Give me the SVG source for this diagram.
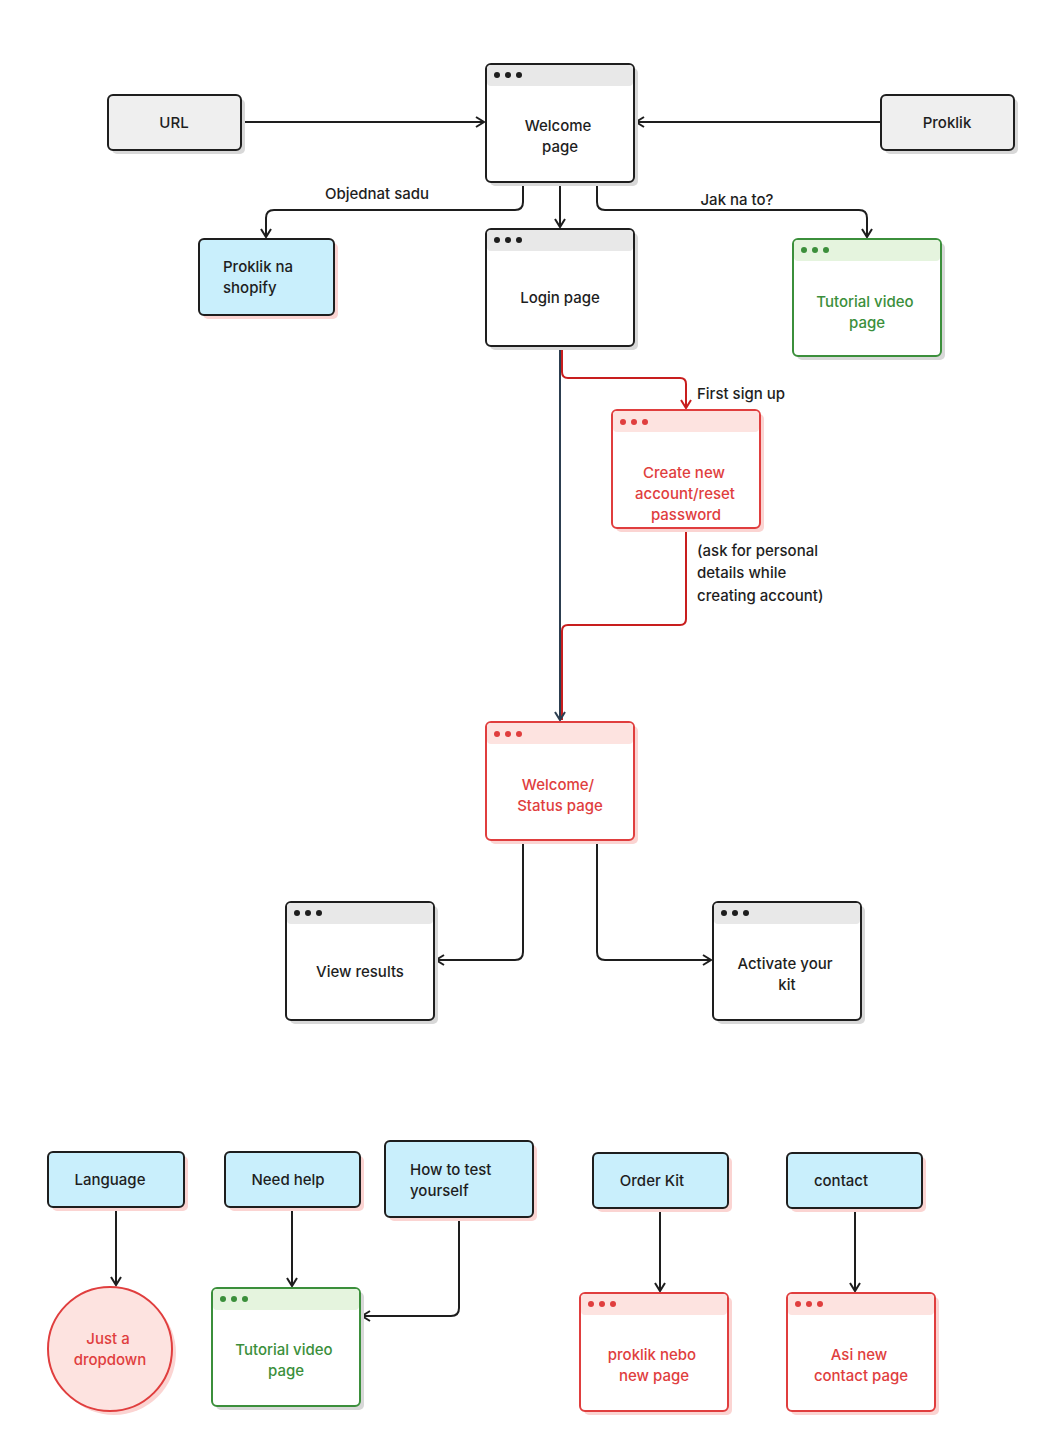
<svg xmlns="http://www.w3.org/2000/svg" width="1040" height="1440" viewBox="0 0 1040 1440">
<defs>
<style>
text{font-family:Inter,"Noto Sans","Liberation Sans",sans-serif;font-size:15px;font-weight:500;fill:#1e1e1e}
.c{text-anchor:middle}
.k rect.b{fill:#fff;stroke:#1e1e1e;stroke-width:2}
.k rect.h{fill:#e8e8e8}
.k circle{fill:#1e1e1e}
.k rect.s{fill:#d8d8d8}
.r rect.b{fill:#fff;stroke:#e03e3e;stroke-width:2}
.r rect.h{fill:#fde3e0}
.r circle{fill:#e03e3e}
.r text{fill:#e03e3e}
.r rect.s{fill:#fbd4d2}
.g rect.b{fill:#fff;stroke:#3b8f3b;stroke-width:2}
.g rect.h{fill:#e5f4de}
.g circle{fill:#3b8f3b}
.g text{fill:#3b8f3b}
.g rect.s{fill:#d8d8d8}
.gr rect.b{fill:#efefef;stroke:#1e1e1e;stroke-width:2}
.gr rect.s{fill:#d8d8d8}
.bl rect.b{fill:#c9effc;stroke:#1e1e1e;stroke-width:2}
.bl rect.s{fill:#fbd4d2}
.ln{fill:none;stroke:#1e1e1e;stroke-width:2}
.rl{fill:none;stroke:#c81e1e;stroke-width:2}
.dl{fill:none;stroke:#2c3e50;stroke-width:2}
</style>
<marker id="a" viewBox="0 0 12 12" refX="10" refY="6" markerWidth="12" markerHeight="12" markerUnits="userSpaceOnUse" orient="auto"><path d="M2,1 L10,6 L2,11" fill="none" stroke="#1e1e1e" stroke-width="2"/></marker>
<marker id="ar" viewBox="0 0 12 12" refX="10" refY="6" markerWidth="12" markerHeight="12" markerUnits="userSpaceOnUse" orient="auto"><path d="M2,1 L10,6 L2,11" fill="none" stroke="#c81e1e" stroke-width="2"/></marker>
<marker id="ad" viewBox="0 0 12 12" refX="10" refY="6" markerWidth="12" markerHeight="12" markerUnits="userSpaceOnUse" orient="auto"><path d="M2,1 L10,6 L2,11" fill="none" stroke="#2c3e50" stroke-width="2"/></marker>
</defs>
<rect width="1040" height="1440" fill="#fff"/>

<g id="connectors">
<path class="ln" d="M241,122 H484" marker-end="url(#a)"/>
<path class="ln" d="M881,122 H636" marker-end="url(#a)"/>
<path class="ln" d="M523,182 V202 Q523,210 515,210 H274 Q266,210 266,218 V237" marker-end="url(#a)"/>
<path class="ln" d="M560,182 V227" marker-end="url(#a)"/>
<path class="ln" d="M597,182 V202 Q597,210 605,210 H859 Q867,210 867,218 V237" marker-end="url(#a)"/>
<path class="rl" d="M562,346 V372 Q562,378 568,378 H680 Q686,378 686,384 V408" marker-end="url(#ar)"/>
<path class="rl" d="M686,528 V619 Q686,625 680,625 H568 Q562,625 562,631 V720"/>
<path class="dl" d="M560,346 V720" marker-end="url(#ad)"/>
<path class="ln" d="M523,840 V952 Q523,960 515,960 H436" marker-end="url(#a)"/>
<path class="ln" d="M597,840 V952 Q597,960 605,960 H711" marker-end="url(#a)"/>
<path class="ln" d="M116,1207 V1285" marker-end="url(#a)"/>
<path class="ln" d="M292,1207 V1286" marker-end="url(#a)"/>
<path class="ln" d="M459,1217 V1308 Q459,1316 451,1316 H362" marker-end="url(#a)"/>
<path class="ln" d="M660,1208 V1291" marker-end="url(#a)"/>
<path class="ln" d="M855,1208 V1291" marker-end="url(#a)"/>
<text x="377" y="199" class="c">Objednat sadu</text>
<text x="737" y="205" class="c">Jak na to?</text>
<text x="697" y="399">First sign up</text>
<text x="697" y="556">(ask for personal</text>
<text x="697" y="578">details while</text>
<text x="697" y="601">creating account)</text>
</g>

<g id="url" class="gr"><rect class="s" x="112" y="99" width="133" height="55" rx="5"/><rect class="b" x="108" y="95" width="133" height="55" rx="5"/><text x="174" y="128" class="c">URL</text></g>
<g id="proklik" class="gr"><rect class="s" x="885" y="99" width="133" height="55" rx="5"/><rect class="b" x="881" y="95" width="133" height="55" rx="5"/><text x="947" y="128" class="c">Proklik</text></g>

<g id="welcome" class="k"><rect class="s" x="490" y="68" width="148" height="118" rx="5"/><rect class="b" x="486" y="64" width="148" height="118" rx="5"/><rect class="h" x="487" y="65" width="146" height="21" rx="4"/><circle cx="497" cy="75" r="3"/><circle cx="508" cy="75" r="3"/><circle cx="519" cy="75" r="3"/><text x="558" y="131" class="c">Welcome</text><text x="560" y="152" class="c">page</text></g>

<g id="shopify" class="bl"><rect class="s" x="203" y="243" width="135" height="76" rx="5"/><rect class="b" x="199" y="239" width="135" height="76" rx="5"/><text x="223" y="272">Proklik na</text><text x="223" y="293">shopify</text></g>

<g id="login" class="k"><rect class="s" x="490" y="233" width="148" height="117" rx="5"/><rect class="b" x="486" y="229" width="148" height="117" rx="5"/><rect class="h" x="487" y="230" width="146" height="21" rx="4"/><circle cx="497" cy="240" r="3"/><circle cx="508" cy="240" r="3"/><circle cx="519" cy="240" r="3"/><text x="560" y="303" class="c">Login page</text></g>

<g id="tutorial1" class="g"><rect class="s" x="797" y="243" width="148" height="117" rx="5"/><rect class="b" x="793" y="239" width="148" height="117" rx="5"/><rect class="h" x="794" y="240" width="146" height="21" rx="4"/><circle cx="804" cy="250" r="3"/><circle cx="815" cy="250" r="3"/><circle cx="826" cy="250" r="3"/><text x="865" y="307" class="c">Tutorial video</text><text x="867" y="328" class="c">page</text></g>

<g id="create" class="r"><rect class="s" x="616" y="414" width="148" height="118" rx="5"/><rect class="b" x="612" y="410" width="148" height="118" rx="5"/><rect class="h" x="613" y="411" width="146" height="21" rx="4"/><circle cx="623" cy="422" r="3"/><circle cx="634" cy="422" r="3"/><circle cx="645" cy="422" r="3"/><text x="684" y="478" class="c">Create new</text><text x="685" y="499" class="c">account/reset</text><text x="686" y="520" class="c">password</text></g>

<g id="status" class="r"><rect class="s" x="490" y="726" width="148" height="118" rx="5"/><rect class="b" x="486" y="722" width="148" height="118" rx="5"/><rect class="h" x="487" y="723" width="146" height="21" rx="4"/><circle cx="497" cy="734" r="3"/><circle cx="508" cy="734" r="3"/><circle cx="519" cy="734" r="3"/><text x="558" y="790" class="c">Welcome/</text><text x="560" y="811" class="c">Status page</text></g>

<g id="results" class="k"><rect class="s" x="290" y="906" width="148" height="118" rx="5"/><rect class="b" x="286" y="902" width="148" height="118" rx="5"/><rect class="h" x="287" y="903" width="146" height="21" rx="4"/><circle cx="297" cy="913" r="3"/><circle cx="308" cy="913" r="3"/><circle cx="319" cy="913" r="3"/><text x="360" y="977" class="c">View results</text></g>

<g id="activate" class="k"><rect class="s" x="717" y="906" width="148" height="118" rx="5"/><rect class="b" x="713" y="902" width="148" height="118" rx="5"/><rect class="h" x="714" y="903" width="146" height="21" rx="4"/><circle cx="724" cy="913" r="3"/><circle cx="735" cy="913" r="3"/><circle cx="746" cy="913" r="3"/><text x="785" y="969" class="c">Activate your</text><text x="787" y="990" class="c">kit</text></g>

<g id="language" class="bl"><rect class="s" x="52" y="1156" width="136" height="55" rx="5"/><rect class="b" x="48" y="1152" width="136" height="55" rx="5"/><text x="110" y="1185" class="c">Language</text></g>
<g id="needhelp" class="bl"><rect class="s" x="229" y="1156" width="135" height="55" rx="5"/><rect class="b" x="225" y="1152" width="135" height="55" rx="5"/><text x="288" y="1185" class="c">Need help</text></g>
<g id="howto" class="bl"><rect class="s" x="389" y="1145" width="148" height="76" rx="5"/><rect class="b" x="385" y="1141" width="148" height="76" rx="5"/><text x="410" y="1175">How to test</text><text x="410" y="1196">yourself</text></g>
<g id="orderkit" class="bl"><rect class="s" x="597" y="1157" width="135" height="55" rx="5"/><rect class="b" x="593" y="1153" width="135" height="55" rx="5"/><text x="652" y="1186" class="c">Order Kit</text></g>
<g id="contact" class="bl"><rect class="s" x="791" y="1157" width="135" height="55" rx="5"/><rect class="b" x="787" y="1153" width="135" height="55" rx="5"/><text x="841" y="1186" class="c">contact</text></g>

<g id="dropdown"><circle cx="114" cy="1353" r="62" fill="#fbd4d2"/><circle cx="110" cy="1349" r="62" fill="#fde3e0" stroke="#e03e3e" stroke-width="2"/><text x="108" y="1344" class="c" style="fill:#e03e3e">Just a</text><text x="110" y="1365" class="c" style="fill:#e03e3e">dropdown</text></g>

<g id="tutorial2" class="g"><rect class="s" x="216" y="1292" width="148" height="118" rx="5"/><rect class="b" x="212" y="1288" width="148" height="118" rx="5"/><rect class="h" x="213" y="1289" width="146" height="21" rx="4"/><circle cx="223" cy="1299" r="3"/><circle cx="234" cy="1299" r="3"/><circle cx="245" cy="1299" r="3"/><text x="284" y="1355" class="c">Tutorial video</text><text x="286" y="1376" class="c">page</text></g>

<g id="proklik-nebo" class="r"><rect class="s" x="584" y="1297" width="148" height="118" rx="5"/><rect class="b" x="580" y="1293" width="148" height="118" rx="5"/><rect class="h" x="581" y="1294" width="146" height="21" rx="4"/><circle cx="591" cy="1304" r="3"/><circle cx="602" cy="1304" r="3"/><circle cx="613" cy="1304" r="3"/><text x="652" y="1360" class="c">proklik nebo</text><text x="654" y="1381" class="c">new page</text></g>

<g id="asi-new" class="r"><rect class="s" x="791" y="1297" width="148" height="118" rx="5"/><rect class="b" x="787" y="1293" width="148" height="118" rx="5"/><rect class="h" x="788" y="1294" width="146" height="21" rx="4"/><circle cx="798" cy="1304" r="3"/><circle cx="809" cy="1304" r="3"/><circle cx="820" cy="1304" r="3"/><text x="859" y="1360" class="c">Asi new</text><text x="861" y="1381" class="c">contact page</text></g>
</svg>
